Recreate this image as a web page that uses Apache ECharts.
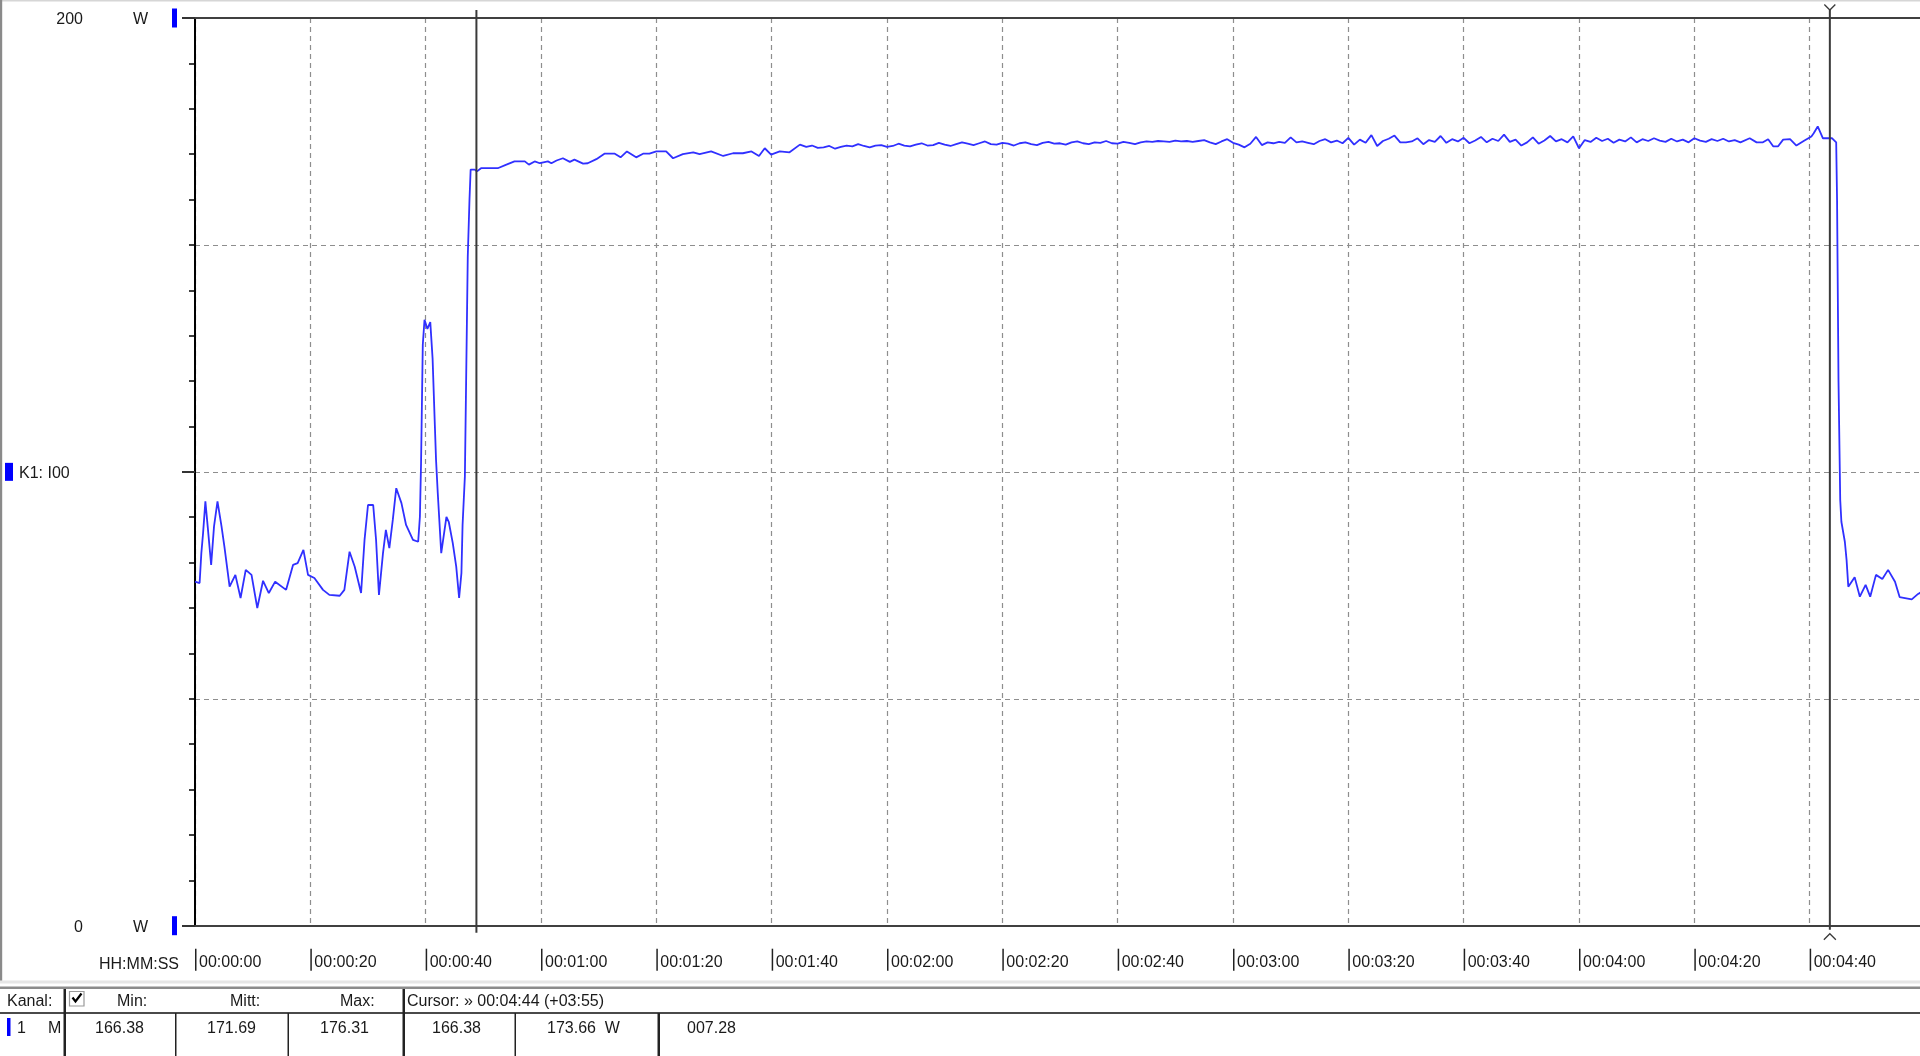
<!DOCTYPE html>
<html><head><meta charset="utf-8">
<script src="https://cdn.jsdelivr.net/npm/echarts@6/dist/echarts.min.js"></script>
<style>html,body{margin:0;padding:0;background:#fff;overflow:hidden}#c{width:1920px;height:1056px}</style>
</head><body><div id="c"></div>
<script>
// ---------- data (time in seconds, power in W) ----------
const xMin = 0, xMax = 300, xInterval = 20;
const yMin = 0, yMax = 200;
const yGridInterval = 50, yMinorInterval = 10, yLabelInterval = 100;
const unitLabel = 'W';
const channelLabel = 'K1: I00';
const timeAxisName = 'HH:MM:SS';
const cursorTimes = [48.8, 283.5];

const startSegment = [[0,75.8],[0.8,75.5],[1.1,82.1],[1.4,86.5],[1.8,93.5],[2.2,88],[2.8,79.5],[3.3,88],[3.9,93.5],[4.6,88],[5.1,83.5],[6.0,74.7],[7.0,77.3],[7.9,72.2],[8.8,78.4],[9.8,77.3],[10.8,70],[11.8,76],[12.8,73.3],[13.9,75.8],[15.8,74],[17.0,79.5],[17.8,79.9],[18.8,82.8],[19.6,77.3],[20.7,76.6],[22.2,74],[23.3,72.9],[25.1,72.7],[25.9,74],[26.8,82.4],[27.7,79.1],[28.8,73.3],[29.4,85],[30.0,92.7],[30.9,92.7],[31.4,85],[31.9,72.9],[32.6,82.1],[33.1,87.2],[33.7,83.2],[34.3,89.4],[34.9,96.4],[35.8,93.1],[36.6,88.3],[37.8,85],[38.7,84.6],[39.0,90.1],[39.2,101.9],[39.5,128],[39.8,133.5],[40.3,131.5],[40.8,133],[41.2,125],[41.6,110],[41.8,102.6],[42.1,95.3],[42.7,82.1],[43.6,90.1],[44.0,89],[44.7,84.3],[45.3,79.1],[45.8,72.2],[46.2,77.7],[46.4,88.3],[46.8,99]];

const riseSegment = [[47.3,147.4],[47.6,160],[47.8,166.6],[48.5,166.6],[48.9,166.2],[49.6,166.9],[52.5,166.9],[54.0,167.7],[55.4,168.4],[57.2,168.4],[57.9,167.7],[58.9,168.4],[59.8,168],[61.2,168.4],[61.8,168],[62.7,168.6],[63.8,169.1],[65.0,168.3],[65.8,168.8],[67.3,167.9],[68.1,168],[69.6,168.9],[71.0,170.1],[72.8,170.1],[73.8,169.3],[74.9,170.6],[76.5,169.3],[77.7,170.1],[78.8,170.1],[80.0,170.6],[81.7,170.6],[82.9,169.1],[84.6,170],[86.4,170.4],[87.5,170],[89.5,170.6],[91.6,169.6],[93.3,170.2],[95.0,170.2],[96.5,170.6],[97.8,169.6],[98.8,171.3],[99.9,169.9],[101.4,170.6],[103.1,170.4],[104.9,172.1]];

const plateauSegment = [[106,171.6],[107,171.9],[108,171.4],[109,171.5],[110,171.8],[111,171.2],[112,171.6],[113,171.9],[114,171.7],[115,172.2],[116,171.8],[117,171.5],[118,171.9],[119,172.0],[120,171.6],[121,171.8],[122,172.3],[123,171.9],[124,171.7],[125,172.1],[126,172.4],[127,171.9],[128,172.0],[129,172.5],[130,172.1],[131,171.8],[132,172.2],[133,172.6],[134,172.3],[135,172.0],[136,172.4],[137,172.8],[138,172.2],[139,172.1],[140,172.5],[141,172.3],[142,171.9],[143,172.4],[144,172.6],[145,172.2],[146,172.0],[147,172.5],[148,172.7],[149,172.3],[150,172.4],[151,172.1],[152,172.6],[153,172.8],[154,172.4],[155,172.2],[156,172.6],[157,172.5],[158,172.9],[159,172.4],[160,172.3],[161,172.7],[162,172.5],[163,172.2],[164,172.6],[165,172.8],[166,172.7],[167,172.9],[168,172.8],[169,172.7],[170,173.0],[171,172.8],[172,172.9],[173,172.7],[174,172.9],[175,173.1],[176,172.6],[177,172.2],[178,172.8],[179,173.3],[180,172.5],[181,172.1],[182,171.5],[183,172.3],[184,173.8],[185,172.0],[186,172.6],[187,172.4],[188,172.7],[189,172.5],[190,173.7],[191,172.6],[192,172.8],[193,172.5],[194,172.2],[195,172.9],[196,173.3],[197,172.6],[198,173.0],[199,172.4],[200,173.6],[201,172.1],[202,173.2],[203,172.5],[204,174.2],[205,171.8],[206,172.9],[207,173.4],[208,174.1],[209,172.6],[210,172.6],[211,172.8],[212,173.5],[213,172.2],[214,173.1],[215,172.7],[216,174.0],[217,172.5],[218,173.3],[219,172.8],[220,173.6],[221,172.4],[222,173.0],[223,173.8],[224,172.6],[225,173.4],[226,172.9],[227,174.3],[228,172.7],[229,173.2],[230,171.9],[231,172.6],[232,173.7],[233,172.3],[234,173.0],[235,174.0],[236,172.8],[237,173.3],[238,172.6],[239,173.9],[240,171.3],[241,173.1],[242,172.7],[243,173.6],[244,172.9],[245,173.4],[246,172.5],[247,173.2],[248,172.8],[249,173.7],[250,172.6],[251,173.3],[252,172.9],[253,173.5],[254,173.0],[255,172.7],[256,173.4],[257,172.8],[258,173.2],[259,172.6],[260,173.5],[261,173.0],[262,172.7],[263,173.3],[264,172.9],[265,173.4],[266,172.8],[267,173.1],[268,172.6]];

const tailSegment = [[269.6,173.5],[270.8,172.6],[271.9,172.6],[272.8,173.3],[273.7,171.7],[274.5,171.7],[275.4,173.2],[276.6,173.3],[277.7,171.9],[279.1,173],[280.3,173.9],[280.7,174.6],[281.4,176.1],[282.3,173.5],[283.4,173.5],[283.9,173.5],[284.6,172.6],[284.75,160],[285.0,120],[285.3,93.8],[285.5,89],[286.1,84.6],[286.4,80.6],[286.7,74.7],[287.8,76.8],[288.7,72.5],[289.7,75.1],[290.5,72.5],[291.5,77.3],[292.6,76.4],[293.6,78.4],[294.8,75.8],[295.6,72.4],[297.7,71.9],[298.8,73.1],[299.5,73.6]];

// table
const tableHeader = ['Kanal:', 'Min:', 'Mitt:', 'Max:'];
const cursorHeader = 'Cursor: \u00bb 00:04:44 (+03:55)';
const channelRow = ['1', 'M'];
const statValues = ['166.38', '171.69', '176.31'];
const cursorValues = ['166.38', '173.66  W', '007.28'];

// ---------- chart ----------
const FONT = 'Liberation Sans';
const TXT = '#1a1a1a';
const BLUE = '#0000ff';
const pad2 = n => String(n).padStart(2, '0');
const hms = s => { s = Math.round(s); return pad2(Math.floor(s / 3600)) + ':' + pad2(Math.floor(s % 3600 / 60)) + ':' + pad2(s % 60); };

const allData = startSegment.concat(riseSegment, plateauSegment, tailSegment);

const chart = echarts.init(document.getElementById('c'), null, { renderer: 'canvas' });

const tableText = (text, x, y) => ({ type: 'text', x, y, silent: true, style: { text, fill: TXT, fontSize: 16, fontFamily: FONT, verticalAlign: 'middle', align: 'left' } });
const rect = (x, y, w, h, fill) => ({ type: 'rect', silent: true, shape: { x, y, width: w, height: h }, style: { fill } });

const headerY = 1001.5, rowY = 1028.5;
const graphics = [
  rect(0, 0, 1920, 1.6, '#d6d6d6'),
  rect(0, 0, 2.2, 981, '#8a8a8a'),
  rect(0, 980.5, 1920, 3, '#e6e6e6'),
  rect(0, 986.5, 1920, 2.5, '#8c8c8c'),
  rect(0, 1012, 1920, 2, '#4a4a4a'),
  rect(63.5, 989, 2.5, 67, '#222'),
  rect(175, 1013, 1.5, 43, '#222'),
  rect(287.5, 1013, 1.5, 43, '#222'),
  rect(402.5, 989, 2.5, 67, '#222'),
  rect(514.5, 1013, 1.5, 43, '#222'),
  rect(657.5, 1013, 2.5, 43, '#222'),
  { type: 'rect', silent: true, shape: { x: 69.5, y: 991.5, width: 14.5, height: 14.5 }, style: { fill: '#fff', stroke: '#9a9a9a', lineWidth: 1.2 } },
  { type: 'polyline', silent: true, shape: { points: [[72.5, 997.5], [75.5, 1001.5], [81.5, 993.5]] }, style: { stroke: '#000', lineWidth: 2.2, fill: null } },
  rect(7, 1018, 3.5, 18, BLUE),
  tableText(tableHeader[0], 7, headerY),
  tableText(tableHeader[1], 117, headerY),
  tableText(tableHeader[2], 230, headerY),
  tableText(tableHeader[3], 340, headerY),
  tableText(cursorHeader, 407, headerY),
  tableText(channelRow[0], 17, rowY),
  tableText(channelRow[1], 48, rowY),
  tableText(statValues[0], 95, rowY),
  tableText(statValues[1], 207, rowY),
  tableText(statValues[2], 320, rowY),
  tableText(cursorValues[0], 432, rowY),
  tableText(cursorValues[1], 547, rowY),
  tableText(cursorValues[2], 687, rowY),
  tableText(timeAxisName, 99, 964.5)
];

const dashed = { color: '#8e8e8e', type: [5, 4], width: 1.2 };

const option = {
  animation: false,
  backgroundColor: '#ffffff',
  grid: { left: 195, right: -5, top: 18, height: 907.7, containLabel: false, outerBoundsMode: 'none' },
  xAxis: [
    {
      type: 'value', min: xMin, max: xMax, interval: xInterval, position: 'bottom',
      axisLine: { show: true, onZero: false, lineStyle: { color: '#404040', width: 2 } },
      axisTick: { show: false },
      splitLine: { show: true, lineStyle: dashed },
      axisLabel: {
        show: true, align: 'left', margin: 23, showMinLabel: true, showMaxLabel: false,
        formatter: v => '{b| }{s| }{t|' + hms(v) + '}',
        rich: {
          b: { width: 1.5, height: 22, backgroundColor: '#222', align: 'left' },
          s: { width: 2.5, fontSize: 16, align: 'left' },
          t: { fontSize: 16, fontFamily: FONT, color: TXT, align: 'left', padding: [6, 0, 0, 0] }
        }
      }
    },
    {
      type: 'value', min: xMin, max: xMax, position: 'top',
      axisLine: { show: true, onZero: false, lineStyle: { color: '#404040', width: 2 } },
      axisTick: { show: false }, axisLabel: { show: false }, splitLine: { show: false }
    }
  ],
  yAxis: [
    {
      type: 'value', min: yMin, max: yMax, interval: yGridInterval, position: 'left',
      axisLine: { show: false, onZero: false }, axisTick: { show: false }, axisLabel: { show: false },
      splitLine: { show: true, lineStyle: dashed }
    },
    {
      type: 'value', min: yMin, max: yMax, interval: yMinorInterval, position: 'left',
      axisLine: { show: true, onZero: false, lineStyle: { color: '#000', width: 2 } },
      axisTick: { show: true, length: 6, lineStyle: { color: '#000', width: 1.5 } },
      axisLabel: { show: false }, splitLine: { show: false }
    },
    {
      type: 'value', min: yMin, max: yMax, interval: yLabelInterval, position: 'left',
      axisLine: { show: false, onZero: false },
      axisTick: { show: true, length: 13, lineStyle: { color: '#333', width: 2 } },
      splitLine: { show: false },
      axisLabel: {
        show: true, margin: 18,
        formatter: v => (v === (yMin + yMax) / 2)
          ? '{m2| }{sp| }{k|' + channelLabel + '}'
          : '{n|' + v + '}{u|' + unitLabel + '}{g| }{m| }',
        rich: {
          n: { width: 30, align: 'right', fontSize: 16, fontFamily: FONT, color: TXT, padding: [4, 0, 0, 0] },
          u: { width: 65, align: 'right', fontSize: 16, fontFamily: FONT, color: TXT, padding: [4, 0, 0, 0] },
          g: { width: 24, align: 'right', fontSize: 16 },
          m: { width: 5, height: 19, align: 'right', backgroundColor: BLUE, fontSize: 16 },
          m2: { width: 8, height: 18, align: 'left', backgroundColor: BLUE, fontSize: 16 },
          sp: { width: 6, align: 'left', fontSize: 16 },
          k: { width: 158, align: 'left', fontSize: 16, fontFamily: FONT, color: TXT, padding: [3, 0, 0, 0] }
        }
      }
    }
  ],
  series: [
    {
      type: 'line', xAxisIndex: 0, yAxisIndex: 0, data: allData,
      showSymbol: false, symbol: 'none', smooth: false, z: 3,
      lineStyle: { color: '#3030ff', width: 1.8 }
    },
    {
      type: 'custom', xAxisIndex: 0, yAxisIndex: 0, clip: false, silent: true, z: 5,
      data: cursorTimes.map((t, i) => [t, i]),
      renderItem: (params, api) => {
        const x = api.coord([api.value(0), 0])[0];
        const cs = params.coordSys;
        const top = cs.y, bottom = cs.y + cs.height;
        const active = api.value(1) === cursorTimes.length - 1;
        const st = { stroke: '#3a3a3a', lineWidth: 2 };
        const children = [{ type: 'line', shape: { x1: x, y1: top - 8, x2: x, y2: bottom + (active ? 4 : 7) }, style: st }];
        if (active) {
          children.push({ type: 'polyline', shape: { points: [[x - 5.5, top - 13.5], [x, top - 8], [x + 5.5, top - 13.5]] }, style: { stroke: '#3a3a3a', lineWidth: 1.3, fill: null } });
          children.push({ type: 'polyline', shape: { points: [[x - 6, bottom + 14], [x, bottom + 8], [x + 6, bottom + 14]] }, style: { stroke: '#3a3a3a', lineWidth: 1.3, fill: null } });
        }
        return { type: 'group', children };
      }
    }
  ],
  graphic: graphics
};
chart.setOption(option);
</script></body></html>
